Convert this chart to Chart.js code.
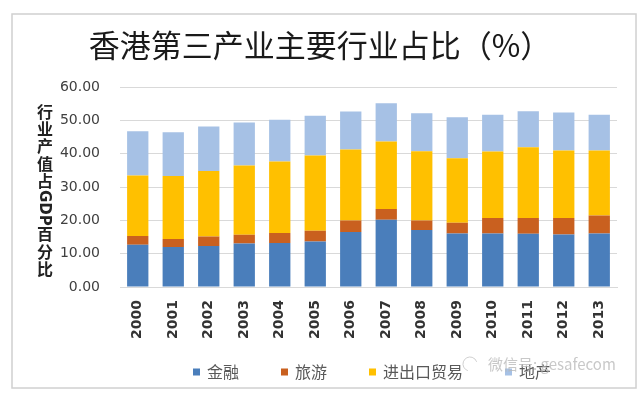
<!DOCTYPE html>
<html>
<head>
<meta charset="utf-8">
<script src="https://cdn.jsdelivr.net/npm/chart.js@4.4.0/dist/chart.umd.min.js"></script>
<style>
  html, body { margin: 0; padding: 0; background: #fff; }
</style>
</head>
<body>
<canvas id="chart" width="640" height="394"></canvas>
<script>
var years = ['2000','2001','2002','2003','2004','2005','2006','2007','2008','2009','2010','2011','2012','2013'];
var finance  = [12.7, 12.0, 12.3, 13.1, 13.2, 13.7, 16.5, 20.2, 17.1, 16.1, 16.1, 16.0, 15.8, 16.1];
var tourism  = [2.6, 2.4, 2.9, 2.6, 3.0, 3.2, 3.5, 3.2, 2.9, 3.2, 4.6, 4.7, 4.9, 5.4];
var trade    = [18.2, 18.9, 19.6, 20.8, 21.5, 22.6, 21.3, 20.3, 20.8, 19.4, 20.0, 21.3, 20.3, 19.5];
var property = [13.3, 13.2, 13.4, 12.9, 12.5, 11.9, 11.4, 11.5, 11.4, 12.3, 11.0, 10.8, 11.4, 10.7];
var seriesNames = ['金融', '旅游', '进出口贸易', '地产'];
var seriesColors = ['#4a7ebb', '#c9601f', '#ffc000', '#a6c1e5'];
var yTitleParts = ['行', '业', '产', '值', '占', 'GDP', '百', '分', '比'];

var cjk = '"Noto Sans CJK SC", "Noto Sans", sans-serif';

// white page + thin grey frame
var framePlugin = {
  id: 'frame',
  beforeDraw: function (chart) {
    var c = chart.ctx;
    c.save();
    c.fillStyle = '#fff';
    c.fillRect(0, 0, chart.width, chart.height);
    c.strokeStyle = '#d0d0d0';
    c.lineWidth = 1.5;
    c.strokeRect(12, 14, 624, 374);
    c.restore();
  }
};

// stacked (vertical) y axis title, GDP turned sideways
var yTitlePlugin = {
  id: 'yTitle',
  afterDraw: function (chart) {
    var c = chart.ctx;
    var x = 45, y = 103;
    c.save();
    c.fillStyle = '#222';
    c.textAlign = 'center';
    c.textBaseline = 'middle';
    yTitleParts.forEach(function (p) {
      if (p.length > 1) {
        c.font = 'bold 15px "DejaVu Sans", sans-serif';
        var w = c.measureText(p).width;
        c.save();
        c.translate(x, y + w / 2);
        c.rotate(Math.PI / 2);
        c.fillText(p, 0, 1);
        c.restore();
        y += w;
      } else {
        c.font = 'bold 16px ' + cjk;
        c.fillText(p, x, y + 8.5);
        y += 17.4;
      }
    });
    c.restore();
  }
};

// legend row under the axis
var legendPlugin = {
  id: 'rowLegend',
  afterDraw: function (chart) {
    var c = chart.ctx;
    var x = 193, y = 372;
    c.save();
    c.font = '16px ' + cjk;
    c.textBaseline = 'middle';
    chart.data.datasets.forEach(function (ds) {
      c.fillStyle = ds.backgroundColor;
      c.fillRect(x, y - 3.5, 7, 7);
      c.fillStyle = '#595959';
      c.fillText(ds.label, x + 14, y);
      x += 14 + c.measureText(ds.label).width + 42;
    });
    // watermark
    c.globalAlpha = 0.75;
    c.fillStyle = '#b5b5b5';
    c.font = '15px ' + cjk;
    c.fillText('微信号: gesafecom', 488, 364);
    c.strokeStyle = '#c0c0c0';
    c.lineWidth = 1;
    c.beginPath();
    c.arc(470, 364, 7, Math.PI * 0.6, Math.PI * 1.9);
    c.stroke();
    c.restore();
  }
};

var ctx = document.getElementById('chart').getContext('2d');
var myChart = new Chart(ctx, {
  type: 'bar',
  data: {
    labels: years,
    datasets: [finance, tourism, trade, property].map(function (d, i) {
      return {
        label: seriesNames[i],
        data: d,
        backgroundColor: seriesColors[i],
        borderWidth: 0,
        barPercentage: 0.6,
        categoryPercentage: 1.0
      };
    })
  },
  options: {
    responsive: false,
    animation: false,
    layout: { padding: { left: 12, right: 12, top: 10, bottom: 30 } },
    plugins: {
      legend: { display: false },
      tooltip: { enabled: false },
      title: {
        display: true,
        text: '香港第三产业主要行业占比（%）',
        color: '#1a1a1a',
        font: { family: cjk, size: 31, weight: 'normal' },
        padding: { top: 17, bottom: 23 }
      }
    },
    scales: {
      x: {
        stacked: true,
        grid: { display: false, drawTicks: false },
        border: { display: true, color: '#d9d9d9' },
        ticks: {
          minRotation: 90,
          maxRotation: 90,
          padding: 13,
          color: '#333',
          font: { family: '"DejaVu Sans", sans-serif', size: 14, weight: 'bold' }
        },
        afterFit: function (s) { s.height = 77; }
      },
      y: {
        stacked: true,
        min: 0,
        max: 60,
        ticks: {
          stepSize: 10,
          padding: 20,
          color: '#404040',
          font: { family: '"DejaVu Sans", sans-serif', size: 14 },
          callback: function (v) { return v.toFixed(2); }
        },
        grid: { color: '#d9d9d9', drawTicks: false },
        border: { display: false },
        afterFit: function (s) { s.width = 108; }
      },
      y2: {
        position: 'right',
        min: 0,
        max: 60,
        grid: { display: false, drawTicks: false },
        border: { display: false },
        ticks: { display: false },
        afterFit: function (s) { s.width = 11; }
      }
    }
  },
  plugins: [framePlugin, yTitlePlugin, legendPlugin]
});
</script>
</body>
</html>
